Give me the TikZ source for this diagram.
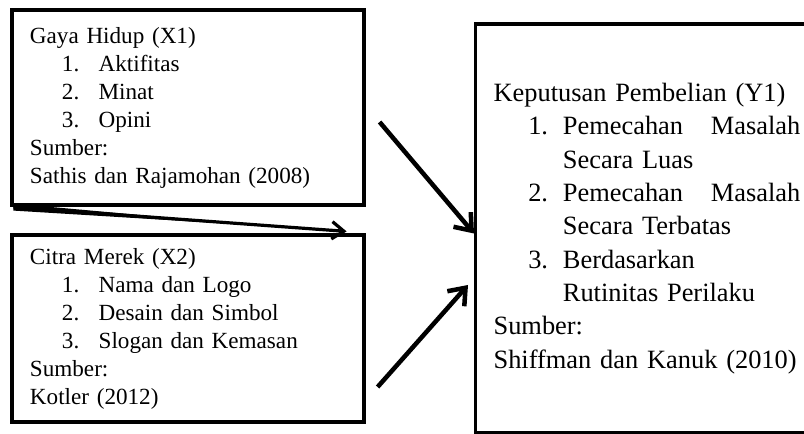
\documentclass[tikz,border=0pt]{standalone}
\usepackage{fontspec}
\setmainfont{Liberation Serif}
\usetikzlibrary{arrows.meta, calc}
\setlength{\parindent}{0pt}
% numbered lines inside the boxes
\newcommand{\xitem}[2]{\hspace*{24pt}\makebox[27.5pt][l]{#1}#2}
\newcommand{\yitem}[2]{\hspace*{26pt}\makebox[26pt][l]{#1}#2}
\newcommand{\ycont}[1]{\hspace*{52pt}#1}

\begin{document}
\begin{tikzpicture}[x=0.75pt, y=-0.75pt,
  varbox/.style={rectangle, draw=black, line width=2.4pt, text width=237pt, inner xsep=13.5pt, align=left, font=\fontsize{17.35}{21}\selectfont},
  depbox/.style={rectangle, draw=black, line width=2.4pt, text width=300pt, inner xsep=13.5pt, minimum height=306.75pt, align=left, font=\fontsize{19.8}{25}\selectfont},
  link/.style={line width=3.4pt, -{Straight Barb[length=11pt, width=17pt]}},
  taper/.style={line width=2.4pt, -{Straight Barb[length=9pt, width=13pt]}}]
\useasboundingbox (0,0) rectangle (804,434);
\clip (0,0) rectangle (804,434);

% Independent variables
\node[varbox, minimum height=146.25pt] (x1) at (188,107.5) {Gaya Hidup (X1)\\
\xitem{1.}{Aktifitas}\\
\xitem{2.}{Minat}\\
\xitem{3.}{Opini}\\
Sumber:\\
Sathis dan Rajamohan (2008)};

\node[varbox, minimum height=140.25pt] (x2) at (188,328.5) {Citra Merek (X2)\\
\xitem{1.}{Nama dan Logo}\\
\xitem{2.}{Desain dan Simbol}\\
\xitem{3.}{Slogan dan Kemasan}\\
Sumber:\\
Kotler (2012)};

% Dependent variable (runs past the right edge)
\node[depbox, anchor=west] (y) at (474,228.5) {Keputusan Pembelian (Y1)\\
\yitem{1.}{\makebox[111pt][l]{Pemecahan}Masalah}\\
\ycont{Secara Luas}\\
\yitem{2.}{\makebox[111pt][l]{Pemecahan}Masalah}\\
\ycont{Secara Terbatas}\\
\yitem{3.}{Berdasarkan}\\
\ycont{Rutinitas Perilaku}\\
Sumber:\\
Shiffman dan Kanuk (2010)};

% Draw connections
\fill ($(x1.south west)+(3,-3)$) -- ($(x1.south west)+(3,4)$) -- ($(x2.north east)+(-110,-8)$) -- cycle;
\draw[taper] ($(x1.south west)+(3,0.5)$) -- ($(x2.north east)+(-19,-2)$);
\draw[link] ($(x1.east)+(14,14.5)$) -- ($(y.west)+(0,5)$);
\draw[link] ($(x2.east)+(12,58.5)$) -- ($(y.west)+(-6,56.5)$);
\end{tikzpicture}
\end{document}
